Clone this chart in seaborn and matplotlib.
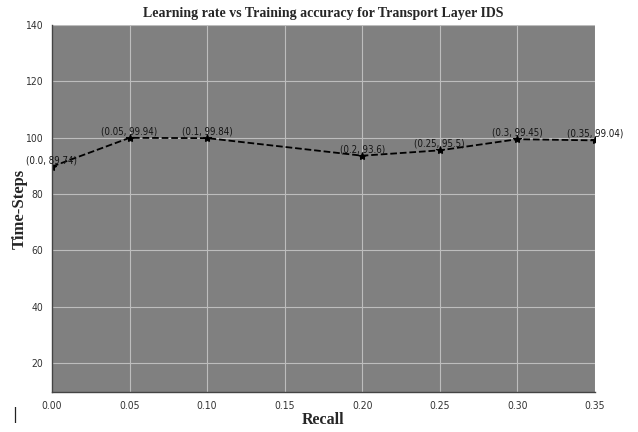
import matplotlib
matplotlib.use("Agg")
import matplotlib.pyplot as plt
import seaborn as sns
import pandas as pd

learning_rate = [0.0, 0.05, 0.1, 0.2, 0.25, 0.3, 0.35]
accuracy = [89.74, 99.94, 99.84, 93.6, 95.5, 99.45, 99.04]
labels = ["(0.0, 89.74)", "(0.05, 99.94)", "(0.1, 99.84)", "(0.2, 93.6)",
          "(0.25, 95.5)", "(0.3, 99.45)", "(0.35, 99.04)"]
xticks = [0.0, 0.05, 0.10, 0.15, 0.20, 0.25, 0.30, 0.35]
yticks = [20, 40, 60, 80, 100, 120, 140]

df = pd.DataFrame({"lr": learning_rate, "acc": accuracy})

sns.set_style("darkgrid", {"axes.facecolor": "#808080", "grid.color": "#bdbdbd"})
plt.rcParams["font.family"] = ["DejaVu Sans"]
fig = plt.figure(figsize=(6.38, 4.32), dpi=100)
ax = fig.add_axes([0.0815, 0.0926, 0.851, 0.8495])

sns.lineplot(data=df, x="lr", y="acc", ax=ax, color="black", linestyle="--",
             marker="*", markersize=6, linewidth=1.3, markeredgecolor="black")

for xv, yv, t in zip(learning_rate, accuracy, labels):
    ax.annotate(t, (xv, yv), xytext=(0, 1), textcoords="offset points",
                ha="center", va="bottom", fontsize=7, fontstretch="condensed",
                color="#151515", annotation_clip=False)

ax.set_xlim(0, 0.35)
ax.set_ylim(9.7, 140)
ax.set_xticks(xticks)
ax.set_xticklabels([f"{v:.2f}" for v in xticks], fontstretch="condensed")
ax.set_yticks(yticks)
ax.set_yticklabels([str(v) for v in yticks], fontstretch="condensed")
ax.tick_params(axis="both", labelsize=7.5, colors="#333333", length=3)
ax.grid(True, color="#bdbdbd", linewidth=0.8)
for s in ["left", "bottom"]:
    ax.spines[s].set_visible(True)
    ax.spines[s].set_color("#444444")
    ax.spines[s].set_linewidth(1.0)
for s in ["top", "right"]:
    ax.spines[s].set_visible(False)

serif = ["Liberation Serif", "DejaVu Serif"]
ax.set_title("Learning rate vs Training accuracy for Transport Layer IDS",
             fontsize=10, fontweight="bold", family=serif, pad=6)
ax.set_xlabel("Recall", fontsize=11.5, fontweight="bold", family=serif, labelpad=1)
ax.set_ylabel("Time-Steps", fontsize=12, fontweight="bold", family=serif)
ax.yaxis.set_label_coords(-0.045, 0.5)

fig.text(15 / 638, 1 - 415 / 432, "|", fontsize=11, color="#222222",
         ha="center", va="center")

fig.savefig("out.png", dpi=100)
